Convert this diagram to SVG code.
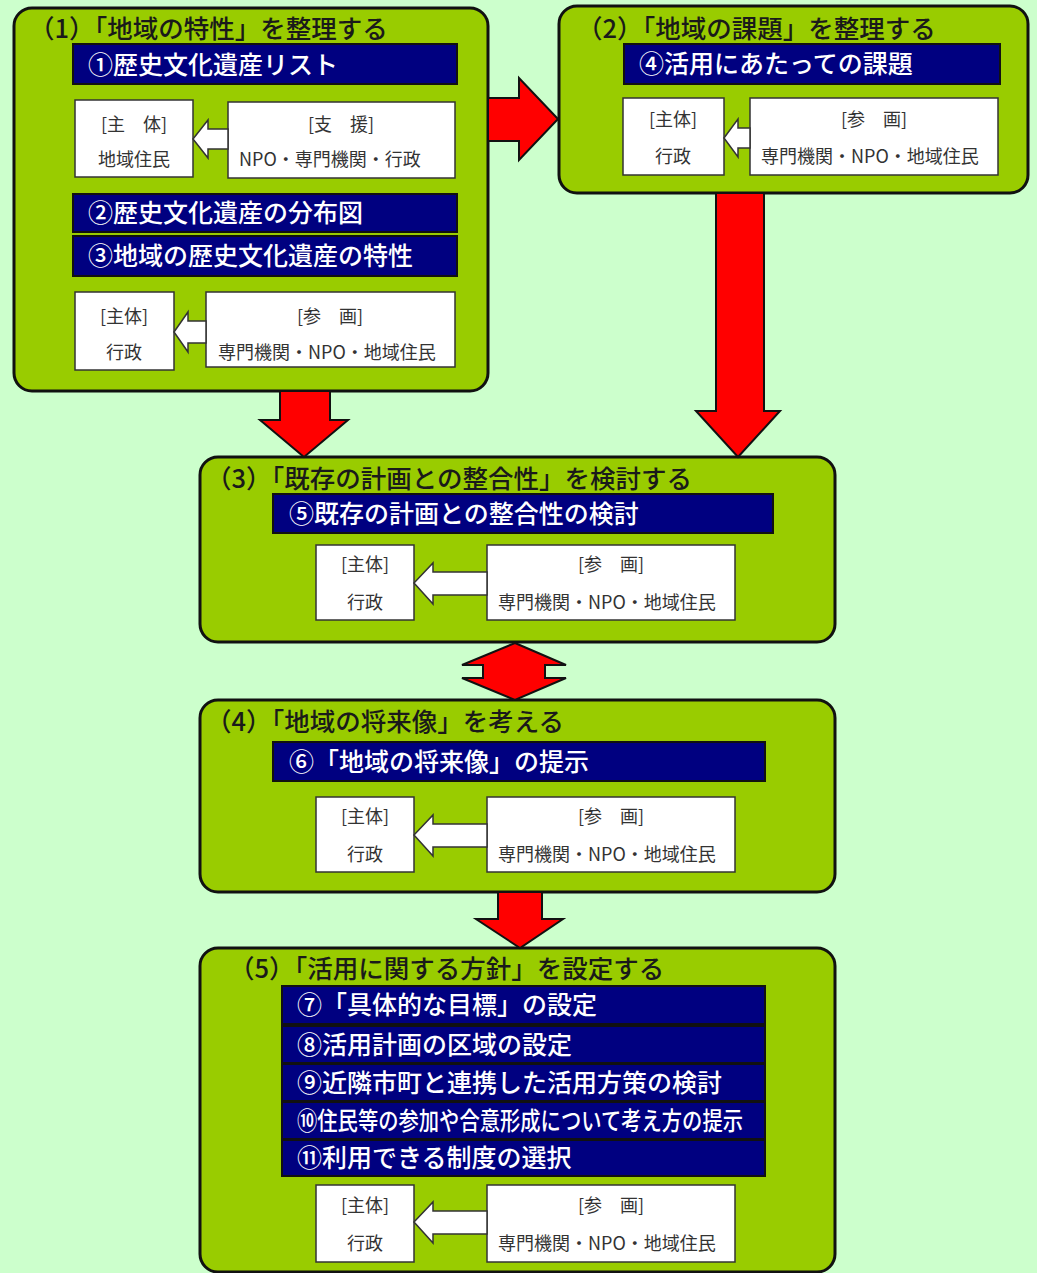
<svg xmlns="http://www.w3.org/2000/svg" width="1037" height="1273" viewBox="0 0 1037 1273">
<style>
.bg{fill:#CCFFCC}
.panel{fill:#99CC00;stroke:#111;stroke-width:3}
.bar{fill:#000080;stroke:#111;stroke-width:2}
.wbox{fill:#FFFFFF;stroke:#333;stroke-width:1.5}
.warrow{fill:#FFFFFF;stroke:#333;stroke-width:1.5;stroke-linejoin:miter}
.rarrow{fill:#FF0000;stroke:#111;stroke-width:2;stroke-linejoin:miter}
.title{font-family:"Noto Sans CJK JP","Noto Sans",sans-serif;font-size:25.5px;font-weight:500;fill:#1a1a1a}
.bartxt{font-family:"Noto Sans CJK JP","Noto Sans",sans-serif;font-size:25px;font-weight:500;fill:#FFFFFF}
.small{font-family:"Noto Sans CJK JP","Noto Sans",sans-serif;font-size:18px;fill:#333;text-anchor:middle}
</style>
<rect class="bg" x="0" y="0" width="1037" height="1273"/>

<g id="node1">
<rect class="panel" x="14" y="8" width="474" height="383" rx="18"/>
<text class="title" x="29" y="38">（1）「地域の特性」を整理する</text>
<rect class="bar" x="73" y="44" width="384" height="40"/>
<text class="bartxt" x="88" y="74">①歴史文化遺産リスト</text>
<rect class="wbox" x="75" y="100" width="118" height="77"/>
<text class="small" x="134" y="131">[主　体]</text>
<text class="small" x="134" y="166">地域住民</text>
<rect class="wbox" x="228" y="102" width="227" height="76"/>
<text class="small" x="341" y="131">[支　援]</text>
<text class="small" x="330" y="166">NPO・専門機関・行政</text>
<path class="warrow" d="M193,139 L208,120 L208,129 L228,129 L228,149 L208,149 L208,158 Z"/>
<rect class="bar" x="73" y="194" width="384" height="38"/>
<text class="bartxt" x="88" y="222">②歴史文化遺産の分布図</text>
<rect class="bar" x="73" y="236" width="384" height="40"/>
<text class="bartxt" x="88" y="265">③地域の歴史文化遺産の特性</text>
<rect class="wbox" x="75" y="292" width="99" height="78"/>
<text class="small" x="124" y="323">[主体]</text>
<text class="small" x="124" y="359">行政</text>
<rect class="wbox" x="206" y="292" width="249" height="75"/>
<text class="small" x="330" y="323">[参　画]</text>
<text class="small" x="327" y="359">専門機関・NPO・地域住民</text>
<path class="warrow" d="M174,332 L188,312 L188,321 L206,321 L206,343 L188,343 L188,352 Z"/>
</g>

<g id="node2">
<rect class="panel" x="559" y="6" width="469" height="187" rx="18"/>
<text class="title" x="577" y="38">（2）「地域の課題」を整理する</text>
<rect class="bar" x="624" y="44" width="376" height="40"/>
<text class="bartxt" x="639" y="73">④活用にあたっての課題</text>
<rect class="wbox" x="623" y="98" width="101" height="77"/>
<text class="small" x="673" y="126">[主体]</text>
<text class="small" x="673" y="163">行政</text>
<rect class="wbox" x="750" y="98" width="248" height="77"/>
<text class="small" x="874" y="126">[参　画]</text>
<text class="small" x="870" y="163">専門機関・NPO・地域住民</text>
<path class="warrow" d="M724,138 L738,119 L738,128 L750,128 L750,148 L738,148 L738,157 Z"/>
</g>

<g id="node3">
<rect class="panel" x="200" y="457" width="635" height="185" rx="18"/>
<text class="title" x="206" y="488">（3）「既存の計画との整合性」を検討する</text>
<rect class="bar" x="273" y="494" width="500" height="39"/>
<text class="bartxt" x="289" y="523">⑤既存の計画との整合性の検討</text>
<rect class="wbox" x="316" y="545" width="98" height="75"/>
<text class="small" x="365" y="571">[主体]</text>
<text class="small" x="365" y="609">行政</text>
<rect class="wbox" x="487" y="545" width="248" height="75"/>
<text class="small" x="611" y="571">[参　画]</text>
<text class="small" x="607" y="609">専門機関・NPO・地域住民</text>
<path class="warrow" d="M414,583 L433,563 L433,572 L487,572 L487,595 L433,595 L433,604 Z"/>
</g>

<g id="node4">
<rect class="panel" x="200" y="700" width="635" height="192" rx="18"/>
<text class="title" x="206" y="731">（4）「地域の将来像」を考える</text>
<rect class="bar" x="273" y="742" width="492" height="39"/>
<text class="bartxt" x="289" y="771">⑥「地域の将来像」の提示</text>
<rect class="wbox" x="316" y="797" width="98" height="75"/>
<text class="small" x="365" y="823">[主体]</text>
<text class="small" x="365" y="861">行政</text>
<rect class="wbox" x="487" y="797" width="248" height="75"/>
<text class="small" x="611" y="823">[参　画]</text>
<text class="small" x="607" y="861">専門機関・NPO・地域住民</text>
<path class="warrow" d="M414,835 L433,815 L433,824 L487,824 L487,847 L433,847 L433,856 Z"/>
</g>

<g id="node5">
<rect class="panel" x="200" y="948" width="635" height="324" rx="18"/>
<text class="title" x="229" y="978">（5）「活用に関する方針」を設定する</text>
<rect class="bar" x="282" y="986" width="483" height="38"/>
<text class="bartxt" x="297" y="1014">⑦「具体的な目標」の設定</text>
<rect class="bar" x="282" y="1026" width="483" height="37"/>
<text class="bartxt" x="297" y="1054">⑧活用計画の区域の設定</text>
<rect class="bar" x="282" y="1064" width="483" height="37"/>
<text class="bartxt" x="297" y="1092">⑨近隣市町と連携した活用方策の検討</text>
<rect class="bar" x="282" y="1102" width="483" height="37"/>
<text class="bartxt" x="297" y="1130" textLength="446" lengthAdjust="spacingAndGlyphs">⑩住民等の参加や合意形成について考え方の提示</text>
<rect class="bar" x="282" y="1140" width="483" height="36"/>
<text class="bartxt" x="297" y="1167">⑪利用できる制度の選択</text>
<rect class="wbox" x="316" y="1185" width="98" height="77"/>
<text class="small" x="365" y="1212">[主体]</text>
<text class="small" x="365" y="1250">行政</text>
<rect class="wbox" x="487" y="1185" width="248" height="77"/>
<text class="small" x="611" y="1212">[参　画]</text>
<text class="small" x="607" y="1250">専門機関・NPO・地域住民</text>
<path class="warrow" d="M414,1222 L433,1202 L433,1211 L487,1211 L487,1234 L433,1234 L433,1243 Z"/>
</g>

<g id="connectors">
<path class="rarrow" d="M488,98 L519,98 L519,78 L558,119 L519,160 L519,141 L488,141 Z"/>
<path class="rarrow" d="M716,193 L764,193 L764,411 L780,411 L738,457 L696,411 L716,411 Z"/>
<path class="rarrow" d="M280,391 L330,391 L330,420 L348,420 L304,457 L260,420 L280,420 Z"/>
<path class="rarrow" d="M515,643 L566,665 L545,665 L545,678 L566,678 L515,700 L462,678 L483,678 L483,665 L462,665 Z"/>
<path class="rarrow" d="M498,892 L542,892 L542,919 L563,919 L520,948 L476,919 L498,919 Z"/>
</g>
</svg>
